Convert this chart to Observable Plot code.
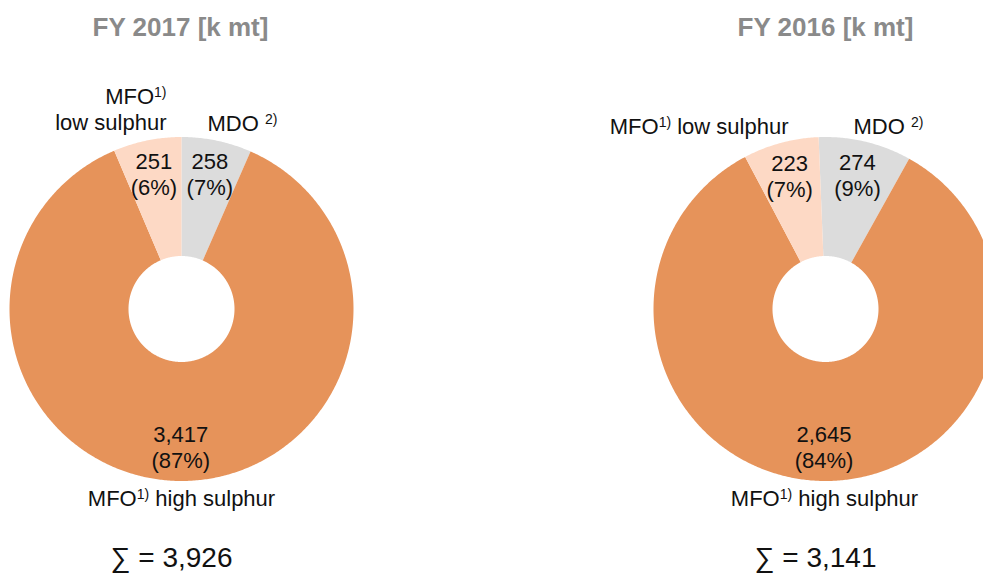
<!DOCTYPE html>
<html>
<head>
<meta charset="utf-8">
<script src="https://cdn.jsdelivr.net/npm/d3@7"></script>
<script src="https://cdn.jsdelivr.net/npm/@observablehq/plot@0.6"></script>
<style>
  html, body { margin: 0; padding: 0; background: #fff; overflow: hidden; }
  #chart svg { display: block; }
</style>
</head>
<body>
<div id="chart"></div>
<script>
// ---------- DATA ----------
const years = ["FY 2017", "FY 2016"];
const unit = "[k mt]";
// slice order, clockwise from 12 o'clock
const fuelTypes = ["MDO", "MFO high sulphur", "MFO low sulphur"];
const values2017 = [258, 3417, 251];
const values2016 = [274, 2645, 223];
const totals = [3926, 3141];
const labels2017 = ["MDO ²⁾", "MFO¹⁾ high sulphur", "MFO¹⁾\nlow sulphur"];
const labels2016 = ["MDO ²⁾", "MFO¹⁾ high sulphur", "MFO¹⁾ low sulphur"];
const fuelColors = ["#DCDCDC", "#E6935A", "#FDD9C5"];

// ---------- LAYOUT ----------
const W = 983, H = 574;
const R_OUT = 172, R_IN = 53, R_LABEL = 138;
const panels = [
  { values: values2017, labels: labels2017, total: totals[0], year: years[0],
    cx: 181, cy: 308.5, start: 0, titleX: 180, sumX: 171,
    catOffsets: [[26, -186.5, "start"], [0, 189, "middle"], [-15, -200, "end"]] },
  { values: values2016, labels: labels2016, total: totals[1], year: years[1],
    cx: 825, cy: 308.5, start: -2.3, titleX: 825, sumX: 815,
    catOffsets: [[28, -183.5, "start"], [-1, 189, "middle"], [-37, -183.5, "end"]] }
];
const TITLE_Y = 27, SUM_Y = 558;

const rad = a => a * Math.PI / 180;
const fmt = d3.format(",");

// build slice polygons (annular sectors) and label rows from the data
const arcRows = [], valueRows = [], catRows = [], titleRows = [], sumRows = [];
panels.forEach((p, pi) => {
  const sum = d3.sum(p.values);
  let a = p.start;
  p.values.forEach((v, i) => {
    const a0 = a, a1 = a + v / sum * 360;
    a = a1;
    const n = Math.max(2, Math.ceil((a1 - a0) / 0.5));
    const key = pi + "-" + fuelTypes[i];
    for (let k = 0; k <= n; k++) {
      const t = a0 + (a1 - a0) * k / n;
      arcRows.push({key, type: fuelTypes[i], x: p.cx + R_OUT * Math.sin(rad(t)), y: p.cy - R_OUT * Math.cos(rad(t))});
    }
    for (let k = n; k >= 0; k--) {
      const t = a0 + (a1 - a0) * k / n;
      arcRows.push({key, type: fuelTypes[i], x: p.cx + R_IN * Math.sin(rad(t)), y: p.cy - R_IN * Math.cos(rad(t))});
    }
    const m = (a0 + a1) / 2;
    valueRows.push({
      x: p.cx + R_LABEL * Math.sin(rad(m)),
      y: p.cy - R_LABEL * Math.cos(rad(m)),
      text: `${fmt(v)}\n(${Math.round(v / p.total * 100)}%)`
    });
    const [dx, dy, anchor] = p.catOffsets[i];
    catRows.push({x: p.cx + dx, y: p.cy + dy, anchor, text: p.labels[i]});
  });
  titleRows.push({x: p.titleX, y: TITLE_Y, text: `${p.year} ${unit}`});
  sumRows.push({x: p.sumX, y: SUM_Y, text: `∑ = ${fmt(p.total)}`});
});

const FONT = "'Liberation Sans', Arial, Helvetica, sans-serif";
const catMark = anchor => Plot.text(catRows.filter(d => d.anchor === anchor), {
  x: "x", y: "y", text: "text", textAnchor: anchor, fontSize: 22, lineHeight: 1.18, fill: "#111"
});

const chart = Plot.plot({
  width: W, height: H, margin: 0,
  x: {domain: [0, W], range: [0, W], axis: null},
  y: {domain: [0, H], range: [0, H], axis: null},
  color: {domain: fuelTypes, range: fuelColors},
  style: {fontFamily: FONT, background: "#fff"},
  marks: [
    Plot.line(arcRows, {x: "x", y: "y", z: "key", fill: "type", stroke: "none", curve: "linear-closed"}),
    Plot.text(valueRows, {x: "x", y: "y", text: "text", fontSize: 22, lineHeight: 1.18, fill: "#111"}),
    catMark("start"), catMark("middle"), catMark("end"),
    Plot.text(titleRows, {x: "x", y: "y", text: "text", fontSize: 26, fontWeight: "bold", fill: "#8A8A8A"}),
    Plot.text(sumRows, {x: "x", y: "y", text: "text", fontSize: 28, fill: "#111"})
  ]
});

// render "¹⁾" / "²⁾" as real superscript text
function supify(root) {
  const ns = "http://www.w3.org/2000/svg";
  const walker = document.createTreeWalker(root, NodeFilter.SHOW_TEXT);
  const nodes = [];
  while (walker.nextNode()) nodes.push(walker.currentNode);
  for (const n of nodes) {
    const s = n.nodeValue;
    if (!/[¹²]⁾/.test(s)) continue;
    const frag = document.createDocumentFragment();
    s.split(/([¹²]⁾)/).forEach(part => {
      if (!part) return;
      if (/[¹²]⁾/.test(part)) {
        const t = document.createElementNS(ns, "tspan");
        t.setAttribute("font-size", "14");
        t.setAttribute("baseline-shift", "7");
        t.textContent = (part[0] === "¹" ? "1" : "2") + ")";
        frag.appendChild(t);
      } else {
        frag.appendChild(document.createTextNode(part));
      }
    });
    n.parentNode.replaceChild(frag, n);
  }
}
supify(chart);
document.getElementById("chart").appendChild(chart);
</script>
</body>
</html>
